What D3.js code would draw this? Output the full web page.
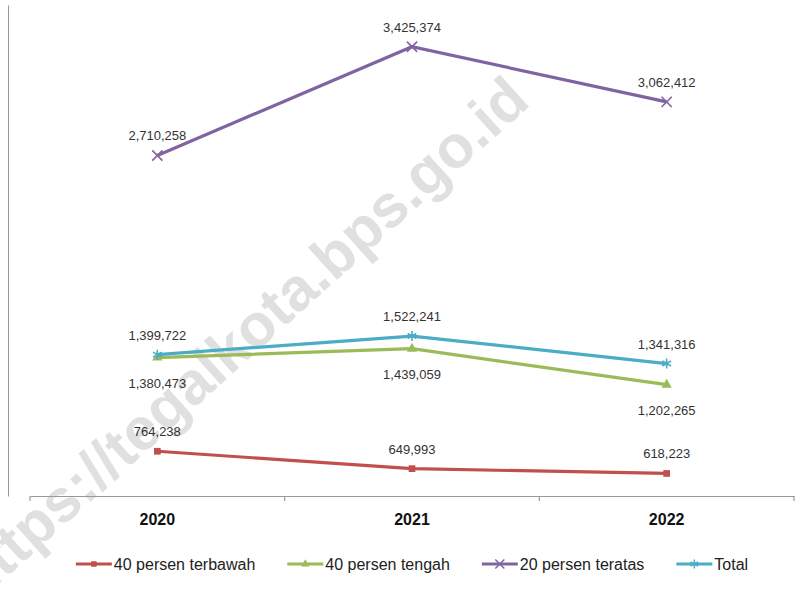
<!DOCTYPE html>
<html>
<head>
<meta charset="utf-8">
<script src="https://cdn.jsdelivr.net/npm/d3@7"></script>
<style>
  body { margin: 0; background: #fff; }
  svg { display: block; font-family: 'Liberation Sans', Arial, sans-serif; }
</style>
</head>
<body>
<svg></svg>
<script>
// data
const years = ['2020', '2021', '2022']
const seriesNames = ['40 persen terbawah', '40 persen tengah', '20 persen teratas', 'Total']
const terbawah = [764238, 649993, 618223]
const tengah = [1380473, 1439059, 1202265]
const teratas = [2710258, 3425374, 3062412]
const total = [1399722, 1522241, 1341316]

const colors = ['#C0504D', '#9BBB59', '#8064A2', '#4BACC6']
const symbols = [d3.symbolSquare, d3.symbolTriangle, d3.symbolTimes, d3.symbolAsterisk]
const filled = [true, true, false, false]
const labelBelow = [false, true, false, false]

const series = [terbawah, tengah, teratas, total].map((vals, i) => ({
  name: seriesNames[i], color: colors[i], symbol: symbols[i], filled: filled[i],
  below: labelBelow[i],
  points: vals.map((v, j) => ({ year: years[j], value: v }))
}))

let w = 812, h = 593

let svg = d3.select('svg').attr('width', w).attr('height', h)

let x = d3.scaleBand().domain(years).range([30, 794])
let y = d3.scaleLinear().domain([470000, 3700000]).range([496, 5])
let cx = d => x(d.year) + x.bandwidth() / 2

// watermark (runs off the bottom-left edge, like the original)
svg.append('text')
  .attr('transform', 'translate(244,342) rotate(-42)')
  .attr('text-anchor', 'middle')
  .attr('dominant-baseline', 'middle')
  .attr('font-size', 60)
  .attr('font-weight', 'bold')
  .attr('fill', '#e0e0e0')
  .text('https://tegalkota.bps.go.id')

// y axis: line only
svg.append('g')
  .attr('transform', 'translate(8,0)')
  .call(d3.axisLeft(y).ticks(0).tickSizeOuter(0))
  .call(g => g.select('.domain').attr('stroke', '#999'))

// x axis
let xAx = svg.append('g').attr('transform', 'translate(0,496)')
xAx.call(d3.axisBottom(x).tickSize(0).tickPadding(18))
xAx.select('.domain').attr('stroke', '#999').attr('stroke-width', 1.2)
xAx.selectAll('text')
  .attr('font-size', 16).attr('font-weight', 'bold').attr('fill', '#111')
  .attr('font-family', "'Liberation Sans', Arial, sans-serif")
let bounds = years.map(d => x(d)).concat([x.range()[1]])
xAx.selectAll('.bound').data(bounds).enter().append('line')
  .attr('x1', d => d).attr('x2', d => d)
  .attr('y1', 0).attr('y2', 5)
  .attr('stroke', '#999').attr('stroke-width', 1.2)

// lines
let line = d3.line().x(cx).y(d => y(d.value))

let sg = svg.selectAll('.series').data(series).enter().append('g')

sg.append('path')
  .attr('d', d => line(d.points))
  .attr('fill', 'none')
  .attr('stroke', d => d.color)
  .attr('stroke-width', 3.2)

sg.each(function (s) {
  let g = d3.select(this)
  g.selectAll('.mk').data(s.points).enter().append('path')
    .attr('transform', d => `translate(${cx(d)},${y(d.value)})`)
    .attr('d', d3.symbol().type(s.symbol).size(s.filled ? 45 : 70))
    .attr('fill', s.filled ? s.color : 'none')
    .attr('stroke', s.color)
    .attr('stroke-width', s.filled ? 0 : 1.6)
  g.selectAll('.lbl').data(s.points).enter().append('text')
    .attr('x', cx)
    .attr('y', d => y(d.value) + (s.below ? 30 : -15))
    .attr('text-anchor', 'middle')
    .attr('font-size', 13)
    .attr('fill', '#333')
    .text(d => d3.format(',')(d.value))
})

// legend
let leg = svg.append('g').attr('transform', 'translate(0,564)')
let items = leg.selectAll('g').data(series).enter().append('g')
items.append('line')
  .attr('x1', 0).attr('x2', 36)
  .attr('stroke', d => d.color).attr('stroke-width', 3.2)
items.append('path')
  .attr('transform', 'translate(18,0)')
  .attr('d', d => d3.symbol().type(d.symbol).size(d.filled ? 30 : 55)())
  .attr('fill', d => d.filled ? d.color : 'none')
  .attr('stroke', d => d.color)
  .attr('stroke-width', d => d.filled ? 0 : 1.5)
items.append('text')
  .attr('x', 38).attr('dy', '0.35em')
  .attr('font-size', 16).attr('fill', '#222')
  .text(d => d.name)

let widths = []
items.each(function () { widths.push(this.getBBox().width) })
let gap = 32
let totalW = d3.sum(widths) + gap * (widths.length - 1)
let start = (x.range()[0] + x.range()[1]) / 2 - totalW / 2
let pos = 0
items.attr('transform', (d, i) => {
  let t = `translate(${start + pos},0)`
  pos += widths[i] + gap
  return t
})
</script>
</body>
</html>
